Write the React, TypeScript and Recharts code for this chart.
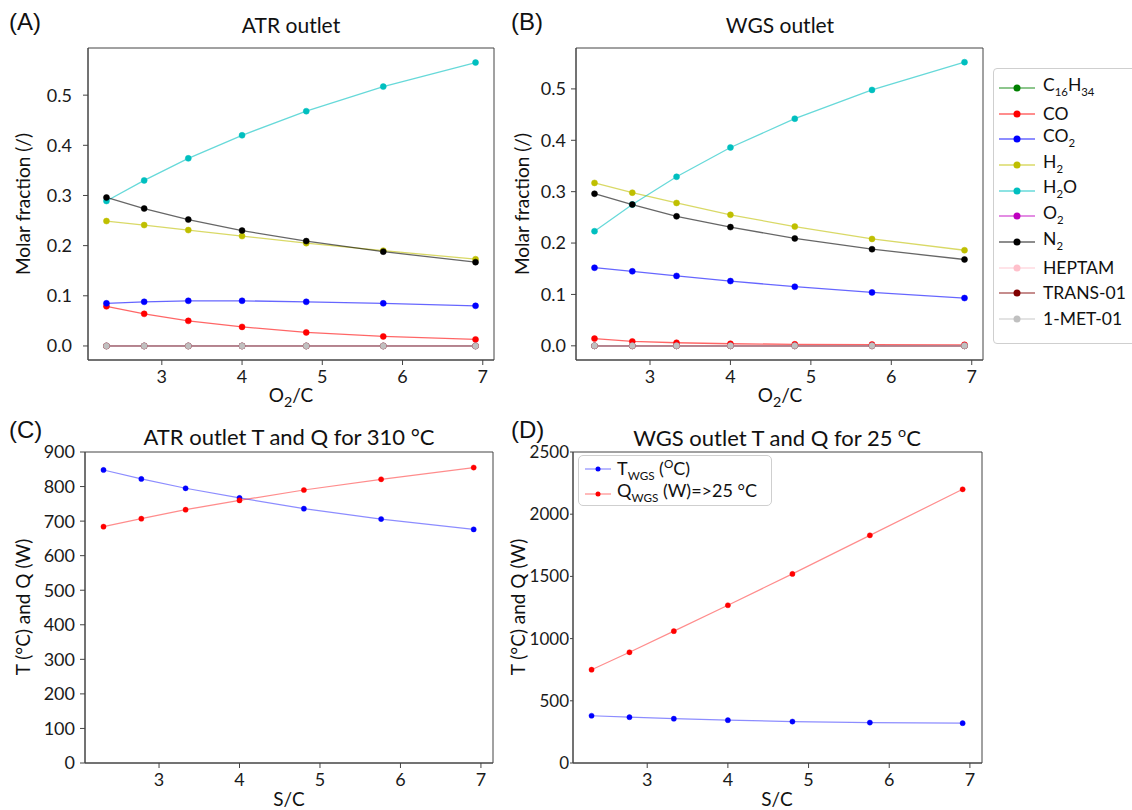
import React from 'react';
import { LineChart, Line, XAxis, YAxis, Legend, ReferenceArea } from 'recharts';

const FONT = "Lato, 'Open Sans', sans-serif";

// S/C (and O2/C) values, shared by all four panels
const ratio = [2.31, 2.78, 3.33, 4.0, 4.8, 5.76, 6.91];

// (A) ATR outlet molar fractions
const atrC16H34 = [0, 0, 0, 0, 0, 0, 0];
const atrCO = [0.079, 0.064, 0.05, 0.038, 0.027, 0.019, 0.013];
const atrCO2 = [0.085, 0.088, 0.09, 0.09, 0.088, 0.085, 0.08];
const atrH2 = [0.249, 0.241, 0.231, 0.219, 0.205, 0.19, 0.173];
const atrH2O = [0.289, 0.33, 0.374, 0.42, 0.468, 0.517, 0.565];
const atrO2 = [0, 0, 0, 0, 0, 0, 0];
const atrN2 = [0.296, 0.274, 0.252, 0.23, 0.209, 0.188, 0.167];
const atrHEPTAM = [0, 0, 0, 0, 0, 0, 0];
const atrTRANS = [0, 0, 0, 0, 0, 0, 0];
const atrMET = [0, 0, 0, 0, 0, 0, 0];

// (B) WGS outlet molar fractions
const wgsC16H34 = [0, 0, 0, 0, 0, 0, 0];
const wgsCO = [0.014, 0.0085, 0.006, 0.004, 0.003, 0.0025, 0.002];
const wgsCO2 = [0.152, 0.145, 0.136, 0.126, 0.115, 0.104, 0.093];
const wgsH2 = [0.317, 0.298, 0.278, 0.255, 0.232, 0.208, 0.186];
const wgsH2O = [0.223, 0.275, 0.329, 0.386, 0.442, 0.498, 0.552];
const wgsO2 = [0, 0, 0, 0, 0, 0, 0];
const wgsN2 = [0.296, 0.275, 0.252, 0.231, 0.209, 0.188, 0.168];
const wgsHEPTAM = [0, 0, 0, 0, 0, 0, 0];
const wgsTRANS = [0, 0, 0, 0, 0, 0, 0];
const wgsMET = [0, 0, 0, 0, 0, 0, 0];

// (C) ATR outlet T and Q
const atrT = [848, 822, 795, 767, 736, 706, 676];
const atrQ = [684, 707, 733, 760, 790, 821, 855];

// (D) WGS outlet T and Q
const wgsT = [380, 368, 356, 344, 333, 325, 320];
const wgsQ = [750, 890, 1060, 1268, 1520, 1830, 2200];

// tick labels
const xTicks = [3, 4, 5, 6, 7];
const fracTicks = [0, 0.1, 0.2, 0.3, 0.4, 0.5];
const atrTQTicks = [0, 100, 200, 300, 400, 500, 600, 700, 800, 900];
const wgsTQTicks = [0, 500, 1000, 1500, 2000, 2500];

const sub = (t: string) => <sub style={{ fontSize: '65%' }}>{t}</sub>;

const species = [
  { key: 'C16H34', color: '#008000', label: <>C{sub('16')}H{sub('34')}</> },
  { key: 'CO', color: '#ff0000', label: <>CO</> },
  { key: 'CO2', color: '#0000ff', label: <>CO{sub('2')}</> },
  { key: 'H2', color: '#bfbf00', label: <>H{sub('2')}</> },
  { key: 'H2O', color: '#00bfbf', label: <>H{sub('2')}O</> },
  { key: 'O2', color: '#bf00bf', label: <>O{sub('2')}</> },
  { key: 'N2', color: '#000000', label: <>N{sub('2')}</> },
  { key: 'HEPTAM', color: '#ffc0cb', label: <>HEPTAM</> },
  { key: 'TRANS', color: '#800000', label: <>TRANS-01</> },
  { key: 'MET', color: '#c0c0c0', label: <>1-MET-01</> },
];

const atrRows = ratio.map((x, i) => ({
  x,
  C16H34: atrC16H34[i], CO: atrCO[i], CO2: atrCO2[i], H2: atrH2[i], H2O: atrH2O[i],
  O2: atrO2[i], N2: atrN2[i], HEPTAM: atrHEPTAM[i], TRANS: atrTRANS[i], MET: atrMET[i],
}));
const wgsRows = ratio.map((x, i) => ({
  x,
  C16H34: wgsC16H34[i], CO: wgsCO[i], CO2: wgsCO2[i], H2: wgsH2[i], H2O: wgsH2O[i],
  O2: wgsO2[i], N2: wgsN2[i], HEPTAM: wgsHEPTAM[i], TRANS: wgsTRANS[i], MET: wgsMET[i],
}));
const atrTQRows = ratio.map((x, i) => ({ x, T: atrT[i], Q: atrQ[i] }));
const wgsTQRows = ratio.map((x, i) => ({ x, T: wgsT[i], Q: wgsQ[i] }));

const AX = '#444';
const tickStyle = { fontSize: 18, fill: '#1a1a1a', fontFamily: FONT };

const frame = (xd: number[], yd: number[]) => (
  <ReferenceArea x1={xd[0]} x2={xd[1]} y1={yd[0]} y2={yd[1]} fill="none" fillOpacity={0} stroke={AX} strokeWidth={1} ifOverflow="visible" />
);

const Txt = ({ x, y, size = 19, rotate = false, family = FONT, children }: any) => (
  <div
    style={{
      position: 'absolute', left: x, top: y, fontSize: size, fontFamily: family, color: '#111',
      whiteSpace: 'nowrap', lineHeight: 1, transform: `translate(-50%,-50%)${rotate ? ' rotate(-90deg)' : ''}`,
    }}
  >
    {children}
  </div>
);

const PanelLetter = ({ x, y, children }: any) => (
  <div style={{ position: 'absolute', left: x, top: y, transform: 'translateY(-50%)', fontSize: 24, fontFamily: "'Liberation Sans', Arial, sans-serif", color: '#111', lineHeight: 1 }}>
    {children}
  </div>
);

const MainLegend = () => (
  <div style={{ border: '1px solid #cfcfcf', borderRadius: 4, background: '#fff', padding: '6px 0 11px 4px', width: 160, fontFamily: FONT, fontSize: 17.5, color: '#111', boxSizing: 'border-box' }}>
    {species.map((s) => (
      <div key={s.key} style={{ display: 'flex', alignItems: 'center', height: 25.7 }}>
        <svg width={38} height={12} style={{ flex: 'none' }}>
          <line x1={1} x2={37} y1={6} y2={6} stroke={s.color} strokeOpacity={0.6} strokeWidth={1.5} />
          <circle cx={19} cy={6} r={3.5} fill={s.color} />
        </svg>
        <span style={{ marginLeft: 7, lineHeight: '20px' }}>{s.label}</span>
      </div>
    ))}
  </div>
);

const tqItems = [
  { key: 'T', color: '#0000ff', label: <>T{sub('WGS')} (<sup style={{ fontSize: '65%' }}>O</sup>C)</> },
  { key: 'Q', color: '#ff0000', label: <>Q{sub('WGS')} (W)=&gt;25 °C</> },
];

const TQLegend = () => (
  <div style={{ border: '1px solid #cfcfcf', borderRadius: 5, background: '#fff', padding: '0 0 1px 5px', width: 194, height: 51, fontFamily: FONT, fontSize: 18, color: '#111', boxSizing: 'border-box' }}>
    {tqItems.map((s) => (
      <div key={s.key} style={{ display: 'flex', alignItems: 'center', height: 25 }}>
        <svg width={28} height={10} style={{ flex: 'none' }}>
          <line x1={1} x2={27} y1={5} y2={5} stroke={s.color} strokeOpacity={0.45} strokeWidth={1.2} />
          <circle cx={14} cy={5} r={2.5} fill={s.color} />
        </svg>
        <span style={{ marginLeft: 5, lineHeight: '20px' }}>{s.label}</span>
      </div>
    ))}
  </div>
);

const speciesLines = () =>
  species.map((s) => (
    <Line
      key={s.key}
      type="linear"
      dataKey={s.key}
      name={s.key}
      stroke={s.color}
      strokeOpacity={0.6}
      strokeWidth={1.3}
      dot={{ r: 3, fill: s.color, stroke: s.color, strokeOpacity: 1, strokeWidth: 0.5 }}
      activeDot={false}
      isAnimationActive={false}
    />
  ));

const tqLines = () => [
  <Line key="T" type="linear" dataKey="T" name="T" stroke="#0000ff" strokeOpacity={0.45} strokeWidth={1.2}
    dot={{ r: 2.6, fill: '#0000ff', stroke: '#0000ff', strokeOpacity: 1, strokeWidth: 0.4 }} activeDot={false} isAnimationActive={false} />,
  <Line key="Q" type="linear" dataKey="Q" name="Q" stroke="#ff0000" strokeOpacity={0.45} strokeWidth={1.2}
    dot={{ r: 2.6, fill: '#ff0000', stroke: '#ff0000', strokeOpacity: 1, strokeWidth: 0.4 }} activeDot={false} isAnimationActive={false} />,
];

const xAxisMain = (domain: number[]) => (
  <XAxis
    dataKey="x" type="number" domain={domain} ticks={xTicks} allowDataOverflow
    tick={tickStyle} tickLine={{ stroke: AX }} axisLine={{ stroke: AX }} tickSize={5} tickMargin={5} height={30}
  />
);

const xdAB = [2.08, 7.14];
const xdCD = [2.08, 7.15];
const ydA = [-0.028, 0.594];
const ydB = [-0.0276, 0.5796];
const ydC = [0, 900];
const ydD = [0, 2500];

export default function App() {
  return (
    <div style={{ position: 'absolute', left: 0, top: 0, width: 1132, height: 810, overflow: 'hidden', background: '#fff', fontFamily: FONT }}>
      {/* (A) */}
      <div style={{ position: 'absolute', left: 0, top: 0 }}>
        <LineChart width={510} height={400} data={atrRows} margin={{ top: 48, right: 16, left: 0, bottom: 10 }}>
          {xAxisMain(xdAB)}
          <YAxis type="number" domain={ydA} ticks={fracTicks} allowDataOverflow width={88}
            tick={tickStyle} tickFormatter={(v: number) => v.toFixed(1)} tickLine={{ stroke: AX }} axisLine={{ stroke: AX }} tickSize={5} tickMargin={11} />
          {frame(xdAB, ydA)}
          {speciesLines()}
        </LineChart>
      </div>

      {/* (B) */}
      <div style={{ position: 'absolute', left: 510, top: 0 }}>
        <LineChart width={622} height={400} data={wgsRows} margin={{ top: 48, right: 149, left: 0, bottom: 10 }}>
          {xAxisMain(xdAB)}
          <YAxis type="number" domain={ydB} ticks={fracTicks} allowDataOverflow width={66}
            tick={tickStyle} tickFormatter={(v: number) => v.toFixed(1)} tickLine={{ stroke: AX }} axisLine={{ stroke: AX }} tickSize={5} tickMargin={5} />
          {frame(xdAB, ydB)}
          {speciesLines()}
          <Legend layout="vertical" align="center" verticalAlign="middle" content={() => <MainLegend />}
            wrapperStyle={{ left: 483, top: 68, width: 160, height: 280 }} />
        </LineChart>
      </div>

      {/* (C) */}
      <div style={{ position: 'absolute', left: 0, top: 410 }}>
        <LineChart width={510} height={400} data={atrTQRows} margin={{ top: 42, right: 17, left: 0, bottom: 17 }}>
          {xAxisMain(xdCD)}
          <YAxis type="number" domain={ydC} ticks={atrTQTicks} allowDataOverflow width={85}
            tick={tickStyle} tickLine={{ stroke: AX }} axisLine={{ stroke: AX }} tickSize={5} tickMargin={5} />
          {frame(xdCD, ydC)}
          {tqLines()}
        </LineChart>
      </div>

      {/* (D) */}
      <div style={{ position: 'absolute', left: 510, top: 410 }}>
        <LineChart width={622} height={400} data={wgsTQRows} margin={{ top: 42, right: 150, left: 0, bottom: 17 }}>
          {xAxisMain(xdCD)}
          <YAxis type="number" domain={ydD} ticks={wgsTQTicks} allowDataOverflow width={63}
            tick={{ ...tickStyle, fontSize: 17 }} tickLine={{ stroke: AX }} axisLine={{ stroke: AX }} tickSize={3} tickMargin={1} />
          {frame(xdCD, ydD)}
          {tqLines()}
          <Legend layout="vertical" align="center" verticalAlign="middle" content={() => <TQLegend />}
            wrapperStyle={{ left: 68, top: 45, width: 194, height: 51 }} />
        </LineChart>
      </div>

      {/* titles */}
      <Txt x={291} y={24} size={21}>ATR outlet</Txt>
      <Txt x={780} y={24} size={21}>WGS outlet</Txt>
      <Txt x={289} y={437} size={22}>ATR outlet T and Q for 310 °C</Txt>
      <Txt x={777} y={437} size={22}>WGS outlet T and Q for 25 <sup style={{ fontSize: '65%' }}>o</sup>C</Txt>

      {/* panel letters */}
      <PanelLetter x={9} y={22}>(A)</PanelLetter>
      <PanelLetter x={511} y={22}>(B)</PanelLetter>
      <PanelLetter x={9} y={430}>(C)</PanelLetter>
      <PanelLetter x={511} y={430}>(D)</PanelLetter>

      {/* axis labels */}
      <Txt x={22} y={204} rotate>Molar fraction (/)</Txt>
      <Txt x={521} y={204} rotate>Molar fraction (/)</Txt>
      <Txt x={291} y={397}>O<sub style={{ fontSize: '75%' }}>2</sub>/C</Txt>
      <Txt x={780} y={397}>O<sub style={{ fontSize: '75%' }}>2</sub>/C</Txt>
      <Txt x={22} y={607} rotate>T (°C) and Q (W)</Txt>
      <Txt x={517} y={607} rotate>T (°C) and Q (W)</Txt>
      <Txt x={289} y={798}>S/C</Txt>
      <Txt x={777} y={798}>S/C</Txt>
    </div>
  );
}
